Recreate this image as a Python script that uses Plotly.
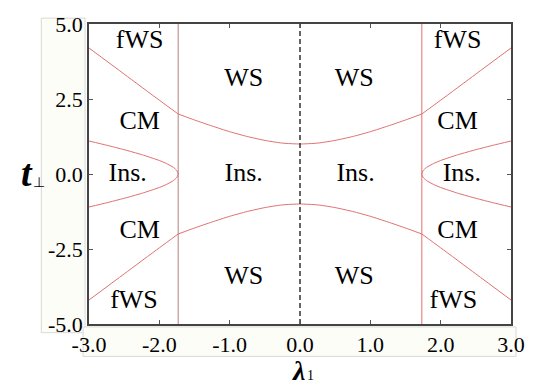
import plotly.graph_objects as go

# ---- data ----
x_ticks = [-3, -2, -1, 0, 1, 2, 3]
x_tick_labels = ["-3.0", "-2.0", "-1.0", "0.0", "1.0", "2.0", "3.0"]
y_ticks = [-5, -2.5, 0, 2.5, 5]
y_tick_labels = ["-5.0", "-2.5", "0.0", "2.5", "5.0"]

# inner WS / Ins. boundary (|lambda| < 1.732)
lam_inner = [-1.732, -1.5, -1.25, -1.0, -0.75, -0.5, -0.25, 0.0,
             0.25, 0.5, 0.75, 1.0, 1.25, 1.5, 1.732]
t_inner_up = [2.0, 1.80, 1.60, 1.41, 1.25, 1.12, 1.03, 1.0,
              1.03, 1.12, 1.25, 1.41, 1.60, 1.80, 2.0]
t_inner_dn = [-2.0, -1.80, -1.60, -1.41, -1.25, -1.12, -1.03, -1.0,
              -1.03, -1.12, -1.25, -1.41, -1.60, -1.80, -2.0]

# fWS / CM boundary (|lambda| > 1.732)
lam_out_right = [1.732, 2.0, 2.5, 3.0]
t_out_right_up = [2.0, 2.46, 3.33, 4.2]
t_out_right_dn = [-2.0, -2.46, -3.33, -4.2]
lam_out_left = [-1.732, -2.0, -2.5, -3.0]
t_out_left_up = [2.0, 2.46, 3.33, 4.2]
t_out_left_dn = [-2.0, -2.46, -3.33, -4.2]

# CM / Ins. lens boundary (|lambda| > 1.732)
lam_lens_right = [3.0, 2.75, 2.5, 2.25, 2.0, 1.9, 1.8, 1.75, 1.732,
                  1.75, 1.8, 1.9, 2.0, 2.25, 2.5, 2.75, 3.0]
t_lens_right = [1.10, 0.96, 0.81, 0.645, 0.45, 0.35, 0.22, 0.11, 0.0,
                -0.11, -0.22, -0.35, -0.45, -0.645, -0.81, -0.96, -1.10]
lam_lens_left = [-3.0, -2.75, -2.5, -2.25, -2.0, -1.9, -1.8, -1.75, -1.732,
                 -1.75, -1.8, -1.9, -2.0, -2.25, -2.5, -2.75, -3.0]
t_lens_left = [1.10, 0.96, 0.81, 0.645, 0.45, 0.35, 0.22, 0.11, 0.0,
               -0.11, -0.22, -0.35, -0.45, -0.645, -0.81, -0.96, -1.10]

# vertical phase boundaries
lam_crit = [-1.732, 1.732]
t_range = [-5, 5]

# region labels
label_text = ["fWS", "CM", "Ins.", "CM", "fWS",
              "fWS", "CM", "Ins.", "CM", "fWS",
              "WS", "Ins.", "WS", "WS", "Ins.", "WS"]
label_x = [-2.28, -2.28, -2.45, -2.28, -2.36,
           2.24, 2.24, 2.30, 2.24, 2.18,
           -0.80, -0.80, -0.80, 0.77, 0.79, 0.77]
label_y = [4.42, 1.73, 0.0, -1.93, -4.25,
           4.42, 1.73, 0.0, -1.93, -4.25,
           3.14, 0.0, -3.46, 3.14, 0.0, -3.46]

RED = "#e07070"
SERIF = "Liberation Serif, Times New Roman, serif"

fig = go.Figure()

def line(x, y, color=RED, width=1.0, dash=None):
    fig.add_trace(go.Scatter(x=x, y=y, mode="lines", hoverinfo="skip",
                             line=dict(color=color, width=width, dash=dash,
                                       shape="spline", smoothing=0.6),
                             showlegend=False))

line(lam_inner, t_inner_up)
line(lam_inner, t_inner_dn)
line(lam_out_right, t_out_right_up)
line(lam_out_right, t_out_right_dn)
line(lam_out_left, t_out_left_up)
line(lam_out_left, t_out_left_dn)
line(lam_lens_right, t_lens_right)
line(lam_lens_left, t_lens_left)
line([lam_crit[0], lam_crit[0]], t_range, color="#b88080", width=1.0)
line([lam_crit[1], lam_crit[1]], t_range, color=RED, width=1.0)
line([0, 0], t_range, color="#333333", width=1.5, dash="5px,3px")

fig.add_trace(go.Scatter(x=label_x, y=label_y, mode="text", text=label_text,
                         textfont=dict(family=SERIF, size=26, color="black"),
                         hoverinfo="skip", showlegend=False))

axis_common = dict(showgrid=False, zeroline=False, showline=True, mirror="ticks",
                   linecolor="#444444", linewidth=1.5, ticks="inside", ticklen=4,
                   tickcolor="#555555", tickwidth=1,
                   tickfont=dict(family=SERIF, size=22, color="black"))

fig.update_layout(
    width=537, height=387,
    margin=dict(l=89, r=23, t=18, b=63),
    paper_bgcolor="white", plot_bgcolor="white",
    xaxis=dict(range=[-3, 3], tickvals=x_ticks, ticktext=x_tick_labels, **axis_common),
    yaxis=dict(range=[-5, 5], tickvals=y_ticks, ticktext=y_tick_labels, **axis_common),
    shapes=[
        dict(type="rect", xref="paper", yref="paper", x0=-0.113, x1=-0.0094,
             y0=-0.029, y1=1.0196, fillcolor="#fdfdf8",
             line=dict(color="#d8d8d8", width=1), layer="below"),
        dict(type="rect", xref="paper", yref="paper", x0=-0.014, x1=1.012,
             y0=-0.108, y1=-0.0098, fillcolor="#fdfdf8",
             line=dict(color="#d8d8d8", width=1), layer="below"),
    ],
    annotations=[
        dict(text="<b><i>t</i></b>", xref="paper", yref="paper", x=-0.146, y=0.505,
             xanchor="center", yanchor="middle", showarrow=False,
             font=dict(family=SERIF, size=38, color="black")),
        dict(text="⊥", xref="paper", yref="paper", x=-0.118, y=0.475,
             xanchor="center", yanchor="middle", showarrow=False,
             font=dict(family="DejaVu Sans", size=14, color="black")),
        dict(text="<b><i>λ</i></b>", xref="paper", yref="paper", x=0.496, y=-0.155,
             xanchor="center", yanchor="middle", showarrow=False,
             font=dict(family=SERIF, size=28, color="black")),
        dict(text="1", xref="paper", yref="paper", x=0.525, y=-0.172,
             xanchor="center", yanchor="middle", showarrow=False,
             font=dict(family=SERIF, size=14, color="black")),
    ],
)

fig.write_html("out.html", config={"displayModeBar": False},
               post_script="document.body.style.margin='0';document.body.style.padding='0';")
